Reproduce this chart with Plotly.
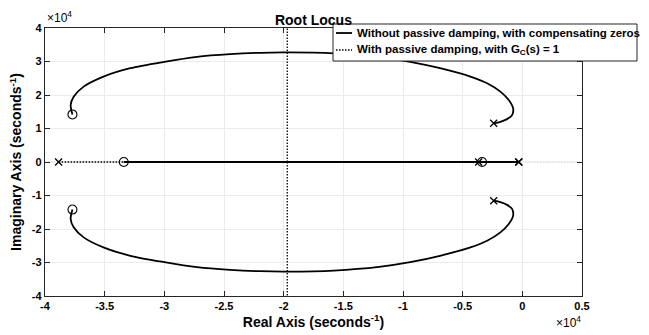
import plotly.graph_objects as go

# ---- data (units: seconds^-1) ----
# upper complex branch of solid locus (pole -> zero)
upper_re = [-2400, -1840, -1280, -860, -770, -1140, -1840, -2950, -4350,
            -6900, -9400, -12000, -15800, -19700, -22000, -24500, -27260,
            -30000, -32850, -35100, -36760, -37600, -37850, -37700]
upper_im = [11550, 12000, 12800, 14000, 16000, 18500, 21000, 23500, 25500,
            28000, 29900, 31300, 32400, 32700, 32600, 32200, 31400,
            29900, 28000, 25500, 22500, 19500, 17000, 14200]
lower_re = upper_re
lower_im = [-v for v in upper_im]

# real-axis branch of solid locus
real_re = [-33400, -300]
real_im = [0, 0]

# solid system poles / zeros
poles_re = [-2400, -2400, -3660, -300]
poles_im = [11550, -11550, 0, 0]
zeros_re = [-37700, -37700, -33400, -3370]
zeros_im = [14200, -14200, 0, 0]

# dotted locus (with passive damping, Gc=1)
dot_re = [-38860, -19700, None, -300, -19700, None, -19700, -19700, None, -19700, -19700]
dot_im = [0, 0, None, 0, 0, None, 0, 45000, None, 0, -45000]
dot_poles_re = [-38860, -300]
dot_poles_im = [0, 0]

xticks = [-40000, -35000, -30000, -25000, -20000, -15000, -10000, -5000, 0, 5000]
xtick_text = ["-4", "-3.5", "-3", "-2.5", "-2", "-1.5", "-1", "-0.5", "0", "0.5"]
yticks = [-40000, -30000, -20000, -10000, 0, 10000, 20000, 30000, 40000]
ytick_text = ["-4", "-3", "-2", "-1", "0", "1", "2", "3", "4"]

legend_labels = ["Without passive damping, with compensating zeros",
                 "With passive damping, with G<sub>C</sub>(s) = 1"]

FONT = "Liberation Sans, Arial, sans-serif"
BLACK = "#000000"
FINE_DOT = "1.5px,1.5px"

# plot-area geometry in pixels (for the hand-drawn legend)
W, H = 649, 335
ML, MR, MT, MB = 45, 67, 28, 39
PW, PH = W - ML - MR, H - MT - MB


def px(xp):
    return (xp - ML) / PW


def py(yp):
    return (H - MB - yp) / PH


fig = go.Figure()

# axes zero lines (dotted gray)
fig.add_shape(type="line", xref="x", yref="paper", x0=0, x1=0, y0=0, y1=1,
              line=dict(color="#c0c0c0", width=1, dash=FINE_DOT), layer="below")
fig.add_shape(type="line", xref="paper", yref="y", x0=0, x1=1, y0=0, y1=0,
              line=dict(color="#c0c0c0", width=1, dash=FINE_DOT), layer="below")

fig.add_trace(go.Scatter(x=dot_re, y=dot_im, mode="lines",
                         line=dict(color=BLACK, width=1.3, dash=FINE_DOT),
                         showlegend=False, hoverinfo="skip"))
fig.add_trace(go.Scatter(x=dot_poles_re, y=dot_poles_im, mode="markers",
                         marker=dict(symbol="x-thin-open", size=7, color=BLACK,
                                     line=dict(color=BLACK, width=1.3)),
                         showlegend=False, hoverinfo="skip"))

fig.add_trace(go.Scatter(x=upper_re, y=upper_im, mode="lines",
                         line=dict(color=BLACK, width=1.8, shape="spline", smoothing=0.8),
                         showlegend=False))
fig.add_trace(go.Scatter(x=lower_re, y=lower_im, mode="lines",
                         line=dict(color=BLACK, width=1.8, shape="spline", smoothing=0.8),
                         showlegend=False))
fig.add_trace(go.Scatter(x=real_re, y=real_im, mode="lines",
                         line=dict(color=BLACK, width=1.8), showlegend=False))
fig.add_trace(go.Scatter(x=poles_re, y=poles_im, mode="markers",
                         marker=dict(symbol="x-thin-open", size=7, color=BLACK,
                                     line=dict(color=BLACK, width=1.3)),
                         showlegend=False))
fig.add_trace(go.Scatter(x=zeros_re, y=zeros_im, mode="markers",
                         marker=dict(symbol="circle-open", size=9, color=BLACK,
                                     line=dict(color=BLACK, width=1.1)),
                         showlegend=False))

axis_common = dict(
    showline=True, linecolor="#262626", linewidth=1.3, mirror="ticks",
    ticks="inside", ticklen=5, tickcolor="#262626", tickwidth=1.3,
    showgrid=True, gridcolor="#ebebeb", gridwidth=1, zeroline=False,
    tickfont=dict(family=FONT, size=11, color=BLACK, weight="bold"),
)

fig.update_xaxes(range=[-40000, 5000], tickvals=xticks, ticktext=xtick_text,
                 title=dict(text="Real Axis (seconds<sup>-1</sup>)", standoff=4,
                            font=dict(family=FONT, size=14, color=BLACK, weight="bold")),
                 **axis_common)
fig.update_yaxes(range=[-40000, 40000], tickvals=yticks, ticktext=ytick_text,
                 title=dict(text="Imaginary Axis (seconds<sup>-1</sup>)", standoff=6,
                            font=dict(family=FONT, size=14, color=BLACK, weight="bold")),
                 **axis_common)

fig.add_annotation(xref="x", yref="paper", x=-40000, y=py(17),
                   xanchor="left", yanchor="middle", text="×10<sup>4</sup>",
                   showarrow=False, font=dict(family=FONT, size=12, color=BLACK))
fig.add_annotation(xref="paper", yref="paper", x=px(568), y=py(322), xanchor="center",
                   yanchor="middle", text="×10<sup>4</sup>", showarrow=False,
                   font=dict(family=FONT, size=12, color=BLACK))

# ---- hand-drawn legend (box, line samples, labels) ----
fig.add_shape(type="rect", xref="paper", yref="paper",
              x0=px(333), x1=px(637), y0=py(61), y1=py(24),
              fillcolor="white", line=dict(color="#262626", width=1), layer="above")
fig.add_shape(type="line", xref="paper", yref="paper",
              x0=px(336), x1=px(352), y0=py(33), y1=py(33),
              line=dict(color=BLACK, width=1.8), layer="above")
fig.add_shape(type="line", xref="paper", yref="paper",
              x0=px(336), x1=px(352), y0=py(50), y1=py(50),
              line=dict(color=BLACK, width=1.5, dash=FINE_DOT), layer="above")
for label, yp in zip(legend_labels, [33, 50]):
    fig.add_annotation(xref="paper", yref="paper", x=px(355), y=py(yp),
                       xanchor="left", yanchor="middle", text=label, showarrow=False,
                       font=dict(family=FONT, size=11.5, color=BLACK, weight="bold"))

fig.update_layout(
    width=W, height=H,
    margin=dict(l=ML, r=MR, t=MT, b=MB, autoexpand=False),
    paper_bgcolor="white", plot_bgcolor="white",
    title=dict(text="Root Locus", x=0.483, xanchor="center", y=0.94, yanchor="middle",
               font=dict(family=FONT, size=14, color=BLACK, weight="bold")),
    showlegend=False,
)

fig.write_html("out.html")
